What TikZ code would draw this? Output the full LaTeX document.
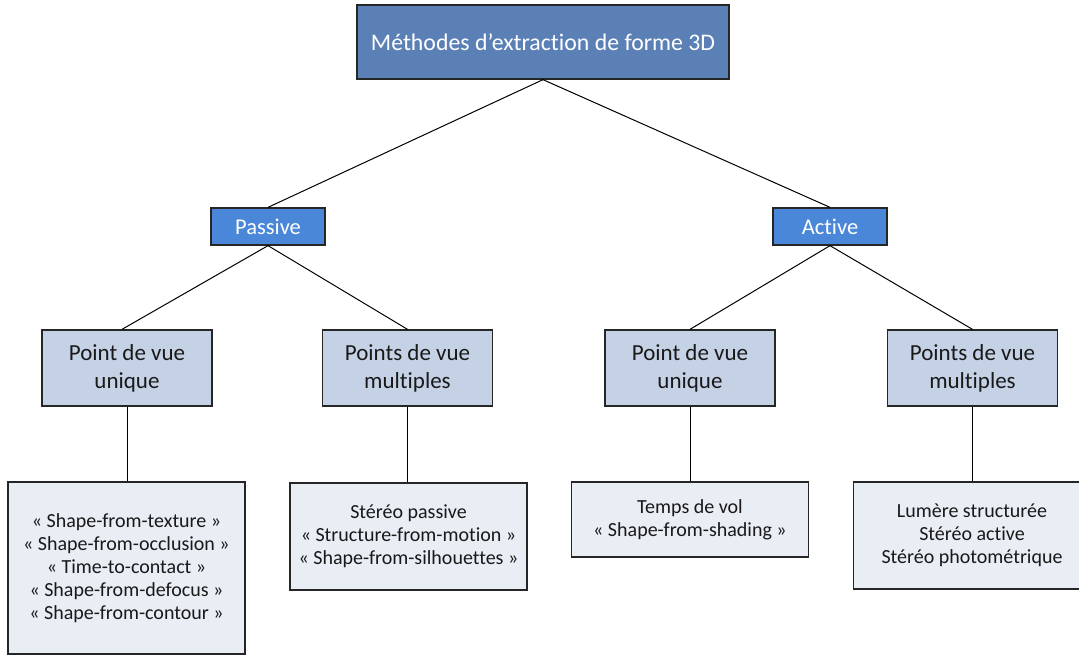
\documentclass[tikz,border=0pt]{standalone}
\usepackage{fontspec}
\setmainfont{Carlito}[Ligatures=NoCommon]
\definecolor{topblue}{RGB}{91,128,182}
\definecolor{midblue}{RGB}{74,135,216}
\definecolor{lvlblue}{RGB}{197,210,229}
\definecolor{leafblue}{RGB}{233,237,244}
\tikzset{
  box/.style={draw=black!85, line width=1.3pt, inner sep=0pt, align=center},
  topbox/.style={box, fill=topblue, text=white, font=\fontsize{23.8}{28}\selectfont},
  midbox/.style={box, fill=midblue, text=white, font=\fontsize{22.5}{26}\selectfont, minimum width=114pt, minimum height=37pt},
  lvlbox/.style={box, fill=lvlblue, text=black!90, font=\fontsize{23}{28}\selectfont, minimum width=170pt, minimum height=76pt},
  leafbox/.style={box, fill=leafblue, text=black!90, font=\fontsize{20}{23}\selectfont, minimum width=237pt},
  conn/.style={draw=black, line width=1pt}
}
\begin{document}
\begin{tikzpicture}[x=1pt,y=-1pt]
\useasboundingbox (0,0) rectangle (1079,655);
\node[topbox, minimum width=372pt, minimum height=74pt] (top) at (543,42) {Méthodes d’extraction de forme 3D};
\node[midbox] (pas) at (268,226.5) {Passive};
\node[midbox] (act) at (830,226.5) {Active};
\node[lvlbox] (pu) at (127,368) {Point de vue\\unique};
\node[lvlbox] (pm) at (407.5,368) {Points de vue\\multiples};
\node[lvlbox] (au) at (690,368) {Point de vue\\unique};
\node[lvlbox] (am) at (972.5,368) {Points de vue\\multiples};
\node[leafbox, minimum height=172pt] (l1) at (126.5,568) {« Shape-from-texture »\\« Shape-from-occlusion »\\« Time-to-contact »\\« Shape-from-defocus »\\« Shape-from-contour »};
\node[leafbox, minimum height=107pt] (l2) at (408.5,536.5) {Stéréo passive\\« Structure-from-motion »\\« Shape-from-silhouettes »};
\node[leafbox, minimum height=75pt] (l3) at (690,519.5) {Temps de vol\\« Shape-from-shading »};
\node[leafbox, minimum height=107pt] (l4) at (972,535.5) {Lumère structurée\\Stéréo active\\Stéréo photométrique};
\draw[conn] (top.south) -- (pas.north);
\draw[conn] (top.south) -- (act.north);
\draw[conn] (pas.south) -- ([xshift=-5pt]pu.north);
\draw[conn] (pas.south) -- (pm.north);
\draw[conn] (act.south) -- (au.north);
\draw[conn] (act.south) -- (am.north);
\draw[conn] (pu.south) -- (pu.south |- l1.north);
\draw[conn] (pm.south) -- (pm.south |- l2.north);
\draw[conn] (au.south) -- (au.south |- l3.north);
\draw[conn] (am.south) -- (am.south |- l4.north);
\end{tikzpicture}
\end{document}
